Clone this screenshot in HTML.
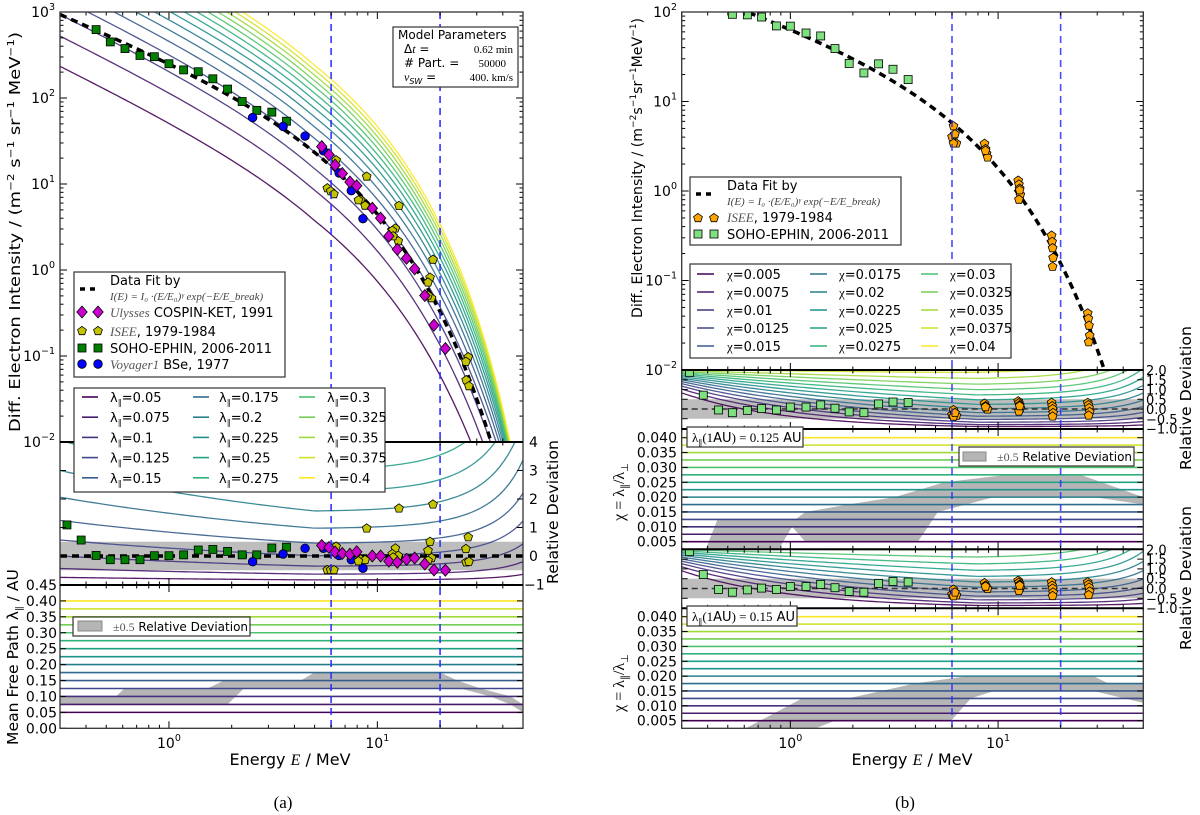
<!DOCTYPE html>
<html><head><meta charset="utf-8"><title>Electron spectra model comparison</title>
<style>
html,body{margin:0;padding:0;background:#fff;}
svg{display:block;font-family:"DejaVu Sans","Liberation Sans",sans-serif;}
</style></head>
<body>
<svg id="fig" xmlns="http://www.w3.org/2000/svg" width="1200" height="815" viewBox="0 0 1200 815">
<defs>
<clipPath id="cLmain"><rect x="60" y="12" width="463" height="430"/></clipPath>
<clipPath id="cLdev"><rect x="60" y="442" width="463" height="143"/></clipPath>
<clipPath id="cLlam"><rect x="60" y="585" width="463" height="143.3"/></clipPath>
<clipPath id="cRmain"><rect x="681.7" y="12" width="461.6" height="358"/></clipPath>
<clipPath id="cRdev1"><rect x="681.7" y="370" width="461.6" height="59"/></clipPath>
<clipPath id="cRchi1"><rect x="681.7" y="429" width="461.6" height="120.3"/></clipPath>
<clipPath id="cRdev2"><rect x="681.7" y="549.3" width="461.6" height="59"/></clipPath>
<clipPath id="cRchi2"><rect x="681.7" y="608.3" width="461.6" height="120"/></clipPath>
</defs>
<rect x="0" y="0" width="1200" height="815" fill="#fff"/>
<g id="root"></g>

<text transform="translate(20,232) rotate(-90)" text-anchor="middle" font-size="15" textLength="400" lengthAdjust="spacingAndGlyphs">Diff. Electron Intensity / (m<tspan dy="-6" font-size="10">−2</tspan><tspan dy="6"> s</tspan><tspan dy="-6" font-size="10">−1</tspan><tspan dy="6"> sr</tspan><tspan dy="-6" font-size="10">−1</tspan><tspan dy="6"> MeV</tspan><tspan dy="-6" font-size="10">−1</tspan><tspan dy="6">)</tspan></text>
<text transform="translate(18,657) rotate(-90)" text-anchor="middle" font-size="15" textLength="176" lengthAdjust="spacingAndGlyphs">Mean Free Path λ<tspan font-size="9" dy="4">∥</tspan><tspan dy="-4"> / AU</tspan></text>
<text transform="translate(558,512) rotate(-90)" text-anchor="middle" font-size="15" textLength="144" lengthAdjust="spacingAndGlyphs">Relative Deviation</text>
<text x="290" y="765" text-anchor="middle" font-size="16">Energy <tspan font-family="Liberation Serif, serif" font-style="italic">E</tspan> / MeV</text>
<text x="283" y="808" text-anchor="middle" font-size="17" font-family="Liberation Serif, serif">(a)</text>

<text transform="translate(642,168) rotate(-90)" text-anchor="middle" font-size="14" textLength="300" lengthAdjust="spacingAndGlyphs">Diff. Electron Intensity / (m<tspan dy="-6" font-size="9">−2</tspan><tspan dy="6">s</tspan><tspan dy="-6" font-size="9">−1</tspan><tspan dy="6">sr</tspan><tspan dy="-6" font-size="9">−1</tspan><tspan dy="6">MeV</tspan><tspan dy="-6" font-size="9">−1</tspan><tspan dy="6">)</tspan></text>
<text transform="translate(624,492) rotate(-90)" text-anchor="middle" font-size="16" font-family="Liberation Serif, serif">χ = λ<tspan font-size="10" dy="4">∥</tspan><tspan dy="-4">/λ</tspan><tspan font-size="10" dy="4">⊥</tspan></text>
<text transform="translate(624,683) rotate(-90)" text-anchor="middle" font-size="16" font-family="Liberation Serif, serif">χ = λ<tspan font-size="10" dy="4">∥</tspan><tspan dy="-4">/λ</tspan><tspan font-size="10" dy="4">⊥</tspan></text>
<text transform="translate(1191,398) rotate(-90)" text-anchor="middle" font-size="15" textLength="144" lengthAdjust="spacingAndGlyphs">Relative Deviation</text>
<text transform="translate(1191,578) rotate(-90)" text-anchor="middle" font-size="15" textLength="144" lengthAdjust="spacingAndGlyphs">Relative Deviation</text>
<text x="912" y="765" text-anchor="middle" font-size="16">Energy <tspan font-family="Liberation Serif, serif" font-style="italic">E</tspan> / MeV</text>
<text x="905" y="808" text-anchor="middle" font-size="17" font-family="Liberation Serif, serif">(b)</text>
</svg>

<script>
// ---------- data ----------
const lamVals=[0.05,0.075,0.1,0.125,0.15,0.175,0.2,0.225,0.25,0.275,0.3,0.325,0.35,0.375,0.4];
const chiVals=[0.005,0.0075,0.01,0.0125,0.015,0.0175,0.02,0.0225,0.025,0.0275,0.03,0.0325,0.035,0.0375,0.04];
const lamTicks=[0,0.05,0.1,0.15,0.2,0.25,0.3,0.35,0.4,0.45];
const chiTicks=[0.005,0.01,0.015,0.02,0.025,0.03,0.035,0.04];
const devTicksL=[-1,0,1,2,3,4];
const devTicksR=[-1,-0.5,0,0.5,1,1.5,2];
const fitLparams=[300.6,-0.99,5.18];
const fitRparams=[76.3,-0.811,5.31];
const dashedE=[6,20];
const sohoLE=[0.324,0.379,0.447,0.523,0.615,0.726,0.851,1.0,1.176,1.382,1.624,1.911,2.246,2.64,3.116,3.664];
const sohoLDev=[1.09,0.56,0.02,-0.13,-0.13,-0.13,0.01,0.01,0.04,0.21,0.23,0.16,0.04,0.04,0.28,0.31];
const voyE=[2.52,3.53,4.50,5.51,6.55,7.50,8.53];
const voyDev=[-0.2,0.07,0.27,0.27,0.02,-0.13,-0.43];
const ulyE=[5.41,5.86,6.27,6.79,7.39,7.96,9.46,10.37,11.36,12.47,13.81,15.1,16.9,18.7,21.2];
const ulyDev=[0.37,0.3,0.14,0.09,0.06,0.15,0,0,-0.18,-0.22,-0.12,-0.07,-0.28,-0.49,-0.5];
const iseeLE=[5.75,5.97,6.19,6.34,8.89,8.32,8.73,8.11,12.7,12.2,11.8,12.6,11.9,18.5,17.9,17.5,18.2,17.5,27.3,26.6,26.7,27.5];
const iseeLDev=[-0.49,-0.49,-0.49,0.33,0.97,-0.12,-0.14,-0.18,1.67,0.27,0.07,0.01,-0.05,1.81,0.5,0.19,-0.07,-0.16,0.66,0.25,-0.22,-0.2];
const sohoRE=[0.327,0.381,0.451,0.526,0.621,0.727,0.857,1.0,1.19,1.40,1.64,1.92,2.26,2.66,3.12,3.69];
const sohoRDev=[1.88,0.71,-0.05,-0.19,-0.07,0.02,-0.05,0.1,0.1,0.21,0.04,-0.15,-0.19,0.26,0.36,0.33];
const iseeRE=[6.0,6.1,6.2,6.3,6.1,6.2, 8.6,8.7,8.8,8.9,8.7, 12.5,12.6,12.7,12.8,12.6,12.7, 18.1,18.2,18.3,18.4,18.3, 27.0,27.2,27.4,27.6,27.3];
const iseeRDev=[-0.3,-0.05,-0.2,-0.35,-0.39,-0.2, 0.28,0.15,0.05,-0.02,0.1, 0.4,0.3,0.2,0.05,-0.12,0.15, 0.32,0.15,0.0,-0.2,-0.38, 0.32,0.2,0.05,-0.15,-0.33];
const bandLUpE=[0.3,0.557,0.611,1.53,1.84,4.29,4.97,20.1,24.2,31.3,43.5,50];
const bandLUpV=[0.1,0.1,0.125,0.125,0.15,0.15,0.175,0.175,0.15,0.125,0.1,0.075];
const bandLLoE=[0.3,1.91,2.29,25.1,34.8,43.5,50];
const bandLLoV=[0.075,0.075,0.125,0.125,0.1,0.075,0.05];
const band1UpE=[0.392,0.446,1.06,1.18,1.90,3.18,5.52,11.1,24.9,50];
const band1UpV=[0.0025,0.0125,0.0125,0.015,0.0175,0.02,0.025,0.0275,0.0275,0.02];
const band1LoE=[0.88,1.02,1.18,4.11,5.13,9.57,28.8,50];
const band1LoV=[0.0025,0.010,0.005,0.005,0.015,0.02,0.02,0.0175];
const band2UpE=[0.609,1.14,1.90,3.96,7.14,28.8,34.0,50];
const band2UpV=[0.0024,0.0125,0.0125,0.0175,0.02,0.02,0.0175,0.0175];
const band2LoE=[1.32,1.64,5.94,7.4,9.57,28.8,50];
const band2LoV=[0.0024,0.005,0.005,0.0125,0.015,0.015,0.011];

// ---------- helpers ----------
const NS="http://www.w3.org/2000/svg";
const root=document.getElementById('root');
function mk(tag,attrs,parent){const el=document.createElementNS(NS,tag);for(const k in attrs)el.setAttribute(k,attrs[k]);(parent||root).appendChild(el);return el;}
function nm(el,name){
  
  
  return el;}
const VIR=[[68,1,84],[72,36,117],[65,68,135],[53,95,141],[42,120,142],[33,145,140],[34,168,132],[68,191,112],[122,209,81],[189,223,38],[253,231,37]];
function vir(t){const p=t*(VIR.length-1);const i=Math.min(Math.floor(p),VIR.length-2);const f=p-i;const c=VIR[i].map((v,k)=>Math.round(v+(VIR[i+1][k]-v)*f));return `rgb(${c[0]},${c[1]},${c[2]})`;}
const L10=Math.log10;
function xmap(x0,x1){return E=>x0+(L10(E)-L10(0.3))/(L10(50)-L10(0.3))*(x1-x0);}
const xL=xmap(60,523), xR=xmap(681.7,1143.3);
const yLmain=I=>12+(3-L10(I))*86;
const yLdev=d=>442+(4-d)*28.5;
const yLlam=l=>728.3-l*318.5;
const yRmain=I=>12+(2-L10(I))*89.5;
const yRdev1=d=>370+(2-d)*19.5;
const yRchi1=c=>437.7+(0.04-c)*2971;
const yRdev2=d=>549.3+(2-d)*19.6;
const yRchi2=c=>616.7+(0.04-c)*2971;
function fit(p,E){return p[0]*Math.pow(E,p[1])*Math.exp(-E/p[2]);}
const clamp=(v,a,b)=>Math.max(a,Math.min(b,v));
function relL(lam,E,damp){const lc=0.1+0.025*clamp(Math.log(E/0.3)/Math.log(5/0.3),0,1);let t=2*Math.log(lam/lc);if(damp&&t>0)t*=Math.max(0.3,1-Math.pow(E/55,3));return Math.exp(t+0.8*Math.pow(E/50,2));}
function relR(chi,E,ref){const s=clamp(Math.log(E/0.3)/Math.log(8/0.3),0,1);const A=0.95*(1-s),B=0.25+1.41*s;return Math.exp(A+B*Math.log(chi/ref)+0.6*Math.pow(E/50,2));}
const grid=[];for(let i=0;i<100;i++)grid.push(0.3*Math.pow(50/0.3,i/99));
function pathD(pts){return 'M'+pts.map(p=>p[0].toFixed(2)+','+p[1].toFixed(2)).join('L');}
function txt(x,y,s,attrs,parent){const t=mk('text',Object.assign({x:x,y:y},attrs||{}),parent);t.textContent=s;return t;}
function pow10Label(x,y,exp,anchor,parent,fs){const t=mk('text',{x:x,y:y,'text-anchor':anchor,'font-size':fs||14},parent);t.appendChild(document.createTextNode('10'));const s=mk('tspan',{dy:-7,'font-size':(fs||14)*0.68},t);s.textContent=exp;return t;}

function marker(type,x,y,fill,parent){
  let el;
  if(type==='sq') el=mk('rect',{x:x-4,y:y-4,width:8,height:8,fill:fill,stroke:'#000','stroke-width':0.8},parent);
  else if(type==='ci') el=mk('circle',{cx:x,cy:y,r:4.3,fill:fill,stroke:'#000','stroke-width':0.8},parent);
  else if(type==='di') el=mk('polygon',{points:`${x},${y-6} ${x+5.2},${y} ${x},${y+6} ${x-5.2},${y}`,fill:fill,stroke:'#000','stroke-width':0.8},parent);
  else {const pts=[];for(let k=0;k<5;k++){const a=-Math.PI/2+k*2*Math.PI/5;pts.push((x+4.6*Math.cos(a)).toFixed(1)+','+(y+4.6*Math.sin(a)).toFixed(1));}el=mk('polygon',{points:pts.join(' '),fill:fill,stroke:'#000','stroke-width':0.8},parent);}
  return el;
}

function xTicks(xf,yTop,yBot){
  const g=mk('g',{stroke:'#000','stroke-width':1});
  nm(g,'x-ticks');
  for(let dec=-1;dec<=1;dec++)for(let m=1;m<=9;m++){const E=m*Math.pow(10,dec);if(E<0.3||E>50)continue;const x=xf(E);const len=(m===1)?7:3.5;
    mk('line',{x1:x,y1:yTop,x2:x,y2:yTop+len},g);mk('line',{x1:x,y1:yBot,x2:x,y2:yBot-len},g);}
}
function yLogTicks(yf,lo,hi,x0,x1){
  const g=mk('g',{stroke:'#000','stroke-width':1});
  nm(g,'y-log-ticks');
  for(let d=lo;d<hi;d++)for(let m=1;m<=9;m++){const y=yf(m*Math.pow(10,d));const len=m===1?7:3.5;mk('line',{x1:x0,y1:y,x2:x0+len,y2:y},g);mk('line',{x1:x1,y1:y,x2:x1-len,y2:y},g);}
}
function yTicks(vals,yf,x0,x1){
  const g=mk('g',{stroke:'#000','stroke-width':1});
  nm(g,'y-ticks');
  vals.forEach(v=>{const y=yf(v);mk('line',{x1:x0,y1:y,x2:x0+6,y2:y},g);mk('line',{x1:x1,y1:y,x2:x1-6,y2:y},g);});
}
function frame(x,y,w,h,name){const r=mk('rect',{x:x,y:y,width:w,height:h,fill:'none',stroke:'#333','stroke-width':1.3});nm(r,name);}

// ================= LEFT PANEL (a) =================
const gLm=mk('g',{'clip-path':'url(#cLmain)'});
nm(gLm,'left-main-plot-area');
lamVals.forEach((lam,i)=>{
  const pts=grid.map(E=>[xL(E),yLmain(Math.max(1e-6,fit(fitLparams,E)*relL(lam,E,true)))]);
  const p=mk('path',{d:pathD(pts),fill:'none',stroke:vir(i/14),'stroke-width':1.3,'stroke-opacity':0.9},gLm);
  nm(p,'model-curve-lambda-'+lam);
});
{const p=mk('path',{d:pathD(grid.map(E=>[xL(E),yLmain(fit(fitLparams,E))])),fill:'none',stroke:'#000','stroke-width':3.5,'stroke-dasharray':'7,5'},gLm);nm(p,'data-fit-line');}
function plotSet(E,D,type,fill,xf,yfMain,pf,gMain,yfDev,gDev,name){
  E.forEach((e,i)=>{const m1=marker(type,xf(e),yfMain(fit(pf,e)*(1+D[i])),fill,gMain);nm(m1,name+'-point');
    const m2=marker(type,xf(e),yfDev(D[i]),fill,gDev);nm(m2,name+'-deviation-point');});
}
const gLd=mk('g',{'clip-path':'url(#cLdev)'});
nm(gLd,'left-deviation-plot-area');
{const r=mk('rect',{x:60,y:yLdev(0.5),width:463,height:yLdev(-0.5)-yLdev(0.5),fill:'#bdbdbd'},gLd);nm(r,'deviation-band');}
lamVals.forEach((lam,i)=>{
  const pts=grid.map(E=>[xL(E),clamp(yLdev(relL(lam,E,false)-1),400,700)]);
  const p=mk('path',{d:pathD(pts),fill:'none',stroke:vir(i/14),'stroke-width':1.3,'stroke-opacity':0.9},gLd);
  nm(p,'deviation-curve-lambda-'+lam);
});
{const l=mk('line',{x1:60,y1:yLdev(0),x2:523,y2:yLdev(0),stroke:'#000','stroke-width':3.5,'stroke-dasharray':'7,5'},gLd);nm(l,'zero-deviation-line');}
plotSet(sohoLE,sohoLDev,'sq','#007f00',xL,yLmain,fitLparams,gLm,yLdev,gLd,'soho-ephin');
plotSet(voyE,voyDev,'ci','#0000ff',xL,yLmain,fitLparams,gLm,yLdev,gLd,'voyager1');
plotSet(iseeLE,iseeLDev,'pe','#c4c400',xL,yLmain,fitLparams,gLm,yLdev,gLd,'isee');
plotSet(ulyE,ulyDev,'di','#cc00cc',xL,yLmain,fitLparams,gLm,yLdev,gLd,'ulysses');
const gLl=mk('g',{'clip-path':'url(#cLlam)'});
nm(gLl,'left-lambda-plot-area');
function bandPoly(upE,upV,loE,loV,xf,yf,g,name){
  const pts=upE.map((e,i)=>[xf(e),yf(upV[i])]).concat(loE.map((e,i)=>[xf(e),yf(loV[i])]).reverse());
  const p=mk('polygon',{points:pts.map(q=>q[0].toFixed(1)+','+q[1].toFixed(1)).join(' '),fill:'#b5b5b5'},g);nm(p,name);
}
bandPoly(bandLUpE,bandLUpV,bandLLoE,bandLLoV,xL,yLlam,gLl,'lambda-band');
lamVals.forEach((lam,i)=>{const l=mk('line',{x1:60,x2:523,y1:yLlam(lam),y2:yLlam(lam),stroke:vir(i/14),'stroke-width':1.6},gLl);nm(l,'lambda-level-'+lam);});
dashedE.forEach(e=>{const l=mk('line',{x1:xL(e),x2:xL(e),y1:12,y2:728.3,stroke:'#2a2aff','stroke-width':1.8,'stroke-dasharray':'7,5','stroke-opacity':0.85});nm(l,'energy-marker-'+e+'MeV');});
xTicks(xL,12,442);xTicks(xL,442,585);xTicks(xL,585,728.3);
yLogTicks(yLmain,-2,3,60,523);yTicks(devTicksL,yLdev,60,523);yTicks(lamTicks,yLlam,60,523);
frame(60,12,463,716.3,'left-frame');
{const l=mk('line',{x1:60,x2:523,y1:442,y2:442,stroke:'#000','stroke-width':2});nm(l,'left-divider-1');}
{const l=mk('line',{x1:60,x2:523,y1:585,y2:585,stroke:'#000','stroke-width':2});nm(l,'left-divider-2');}
for(let d=-2;d<=3;d++){const t=pow10Label(55,yLmain(Math.pow(10,d))+5,d<0?'−'+(-d):String(d),'end');nm(t,'y-tick-label');}
devTicksL.forEach(v=>{const t=txt(v<0?524:529,yLdev(v)+5,v<0?'−'+(-v):String(v),{'font-size':14});nm(t,'deviation-tick-label');});
lamTicks.forEach(v=>{const t=txt(57,yLlam(v)+5,v.toFixed(2),{'font-size':14,'text-anchor':'end'});nm(t,'lambda-tick-label');});
[[1,'0'],[10,'1']].forEach(a=>{const t=pow10Label(xL(a[0]),748,a[1],'middle');nm(t,'x-tick-label');});

{const g=mk('g');nm(g,'data-legend');
 const r=mk('rect',{x:74,y:272,width:211,height:105,fill:'#fff',stroke:'#333','stroke-width':1.2},g);nm(r,'data-legend-box');
 mk('line',{x1:80,x2:100,y1:289,y2:289,stroke:'#000','stroke-width':3.5,'stroke-dasharray':'5,5'},g);
 txt(110,285,'Data Fit by',{'font-size':13},g);
 txt(110,300,'I(E) = I₀ ·(E/E₀)ᵞ exp(−E/E_break)',{'font-size':11,'font-family':'Liberation Serif, serif','font-style':'italic',fill:'#444'},g);
 marker('di',82,312,'#cc00cc',g);marker('di',98,312,'#cc00cc',g);
 const t1=txt(110,317,'',{'font-size':13},g);t1.innerHTML='<tspan font-family="Liberation Serif, serif" font-style="italic" fill="#555">Ulysses</tspan> COSPIN-KET, 1991';
 marker('pe',82,331,'#c4c400',g);marker('pe',98,331,'#c4c400',g);
 const t2=txt(110,336,'',{'font-size':13},g);t2.innerHTML='<tspan font-family="Liberation Serif, serif" font-style="italic" fill="#555">ISEE</tspan>, 1979-1984';
 marker('sq',82,348,'#007f00',g);marker('sq',98,348,'#007f00',g);
 txt(110,353,'SOHO-EPHIN, 2006-2011',{'font-size':13},g);
 marker('ci',82,364,'#0000ff',g);marker('ci',98,364,'#0000ff',g);
 const t3=txt(110,369,'',{'font-size':13},g);t3.innerHTML='<tspan font-family="Liberation Serif, serif" font-style="italic" fill="#555">Voyager1</tspan> BSe, 1977';
}
{const g=mk('g');nm(g,'lambda-legend');
 const r=mk('rect',{x:74,y:388,width:311,height:104,fill:'#fff',stroke:'#333','stroke-width':1.2},g);nm(r,'lambda-legend-box');
 const colX=[[82,110],[193,219],[299,327]];
 lamVals.forEach((lam,i)=>{const c=Math.floor(i/5),row=i%5;const y=397+row*20.2;
  const l=mk('line',{x1:colX[c][0],x2:colX[c][0]+16,y1:y,y2:y,stroke:vir(i/14),'stroke-width':1.6},g);nm(l,'legend-line-lambda-'+lam);
  const t=txt(colX[c][1],y+5,'',{'font-size':13},g);t.innerHTML='λ<tspan font-size="8" dy="3">∥</tspan><tspan dy="-3">='+lam+'</tspan>';nm(t,'legend-entry-lambda-'+lam);});
}
{const g=mk('g');nm(g,'model-parameters-box');
 mk('rect',{x:393,y:27,width:125,height:60,fill:'#fff',stroke:'#333','stroke-width':1.2},g);
 txt(398,39,'Model Parameters',{'font-size':12},g);
 const a=txt(404,53,'',{'font-size':12},g);a.innerHTML='Δ<tspan font-family="Liberation Serif, serif" font-style="italic">t</tspan> =';
 txt(513,53,'0.62 min',{'font-size':11,'text-anchor':'end','font-family':'Liberation Serif, serif'},g);
 txt(404,67,'# Part. =',{'font-size':12},g);
 txt(506,67,'50000',{'font-size':11,'text-anchor':'end','font-family':'Liberation Serif, serif'},g);
 const b=txt(404,81,'',{'font-size':12},g);b.innerHTML='<tspan font-family="Liberation Serif, serif" font-style="italic">v</tspan><tspan font-size="8" dy="3" font-style="italic">SW</tspan><tspan dy="-3"> =</tspan>';
 txt(513,81,'400. km/s',{'font-size':11,'text-anchor':'end','font-family':'Liberation Serif, serif'},g);
}
{const g=mk('g');nm(g,'band-legend-left');
 mk('rect',{x:73,y:617,width:177,height:19,fill:'#fff',stroke:'#333','stroke-width':1.2},g);
 mk('rect',{x:78,y:621,width:24,height:10,fill:'#b5b5b5',stroke:'#888'},g);
 const t=txt(113,631,'',{'font-size':12},g);t.innerHTML='<tspan font-family="Liberation Serif, serif" fill="#555">±0.5</tspan> Relative Deviation';
}

// ================= RIGHT PANEL (b) =================
const gRm=mk('g',{'clip-path':'url(#cRmain)'});
nm(gRm,'right-main-plot-area');
{const p=mk('path',{d:pathD(grid.map(E=>[xR(E),yRmain(fit(fitRparams,E))])),fill:'none',stroke:'#000','stroke-width':3.5,'stroke-dasharray':'7,5'},gRm);nm(p,'data-fit-line-right');}
function devPanel(clip,yf,ref,name){
  const g=mk('g',{'clip-path':clip});nm(g,name);
  const r=mk('rect',{x:681.7,y:yf(0.5),width:461.6,height:yf(-0.5)-yf(0.5),fill:'#bdbdbd'},g);nm(r,'deviation-band');
  chiVals.forEach((c,i)=>{const pts=grid.map(E=>[xR(E),clamp(yf(relR(c,E,ref)-1),300,700)]);
    const p=mk('path',{d:pathD(pts),fill:'none',stroke:vir(i/14),'stroke-width':1.3,'stroke-opacity':0.9},g);nm(p,'deviation-curve-chi-'+c);});
  const l=mk('line',{x1:681.7,x2:1143.3,y1:yf(0),y2:yf(0),stroke:'#333','stroke-width':1.6,'stroke-dasharray':'6,4'},g);nm(l,'zero-deviation-line');
  return g;
}
const gRd1=devPanel('url(#cRdev1)',yRdev1,0.02,'right-deviation-plot-1');
const gRd2=devPanel('url(#cRdev2)',yRdev2,0.017,'right-deviation-plot-2');
plotSet(sohoRE,sohoRDev,'sq','#7ee07e',xR,yRmain,fitRparams,gRm,yRdev1,gRd1,'soho-ephin-right');
plotSet(iseeRE,iseeRDev,'pe','#ffa500',xR,yRmain,fitRparams,gRm,yRdev1,gRd1,'isee-right');
sohoRE.forEach((e,i)=>{const m=marker('sq',xR(e),yRdev2(sohoRDev[i]),'#7ee07e',gRd2);nm(m,'soho-ephin-deviation-point-2');});
iseeRE.forEach((e,i)=>{const m=marker('pe',xR(e),yRdev2(iseeRDev[i]),'#ffa500',gRd2);nm(m,'isee-deviation-point-2');});
function chiPanel(clip,yf,upE,upV,loE,loV,name){
  const g=mk('g',{'clip-path':clip});nm(g,name);
  bandPoly(upE,upV,loE,loV,xR,yf,g,'chi-band');
  chiVals.forEach((c,i)=>{const l=mk('line',{x1:681.7,x2:1143.3,y1:yf(c),y2:yf(c),stroke:vir(i/14),'stroke-width':1.6},g);nm(l,'chi-level-'+c);});
}
chiPanel('url(#cRchi1)',yRchi1,band1UpE,band1UpV,band1LoE,band1LoV,'chi-plot-1');
chiPanel('url(#cRchi2)',yRchi2,band2UpE,band2UpV,band2LoE,band2LoV,'chi-plot-2');
dashedE.forEach(e=>{const l=mk('line',{x1:xR(e),x2:xR(e),y1:12,y2:728.3,stroke:'#2a2aff','stroke-width':1.6,'stroke-dasharray':'7,5','stroke-opacity':0.85});nm(l,'energy-marker-right-'+e+'MeV');});
xTicks(xR,12,370);xTicks(xR,370,429);xTicks(xR,429,549.3);xTicks(xR,549.3,608.3);xTicks(xR,608.3,728.3);
yLogTicks(yRmain,-2,2,681.7,1143.3);yTicks(devTicksR,yRdev1,681.7,1143.3);yTicks(devTicksR,yRdev2,681.7,1143.3);yTicks(chiTicks,yRchi1,681.7,1143.3);yTicks(chiTicks,yRchi2,681.7,1143.3);
frame(681.7,12,461.6,716.3,'right-frame');
[370,429,549.3,608.3].forEach((y,i)=>{const l=mk('line',{x1:681.7,x2:1143.3,y1:y,y2:y,stroke:'#000','stroke-width':2});nm(l,'right-divider-'+i);});
for(let d=-2;d<=2;d++){const t=pow10Label(677,yRmain(Math.pow(10,d))+5,d<0?'−'+(-d):String(d),'end');nm(t,'y-tick-label-right');}
[yRdev1,yRdev2].forEach(yf=>devTicksR.forEach(v=>{const t=txt(1146,yf(v)+5,(v<0?'−':'')+Math.abs(v).toFixed(1),{'font-size':13},root);nm(t,'deviation-tick-label-right');}));
[yRchi1,yRchi2].forEach(yf=>chiTicks.forEach(v=>{const t=txt(677,yf(v)+5,v.toFixed(3),{'font-size':14,'text-anchor':'end'});nm(t,'chi-tick-label');}));
[[1,'0'],[10,'1']].forEach(a=>{const t=pow10Label(xR(a[0]),748,a[1],'middle');nm(t,'x-tick-label-right');});

{const g=mk('g');nm(g,'data-legend-right');
 mk('rect',{x:690,y:177,width:211,height:68,fill:'#fff',stroke:'#333','stroke-width':1.2},g);
 mk('line',{x1:696,x2:716,y1:194,y2:194,stroke:'#000','stroke-width':3.5,'stroke-dasharray':'5,5'},g);
 txt(727,190,'Data Fit by',{'font-size':13},g);
 txt(727,205,'I(E) = I₀ ·(E/E₀)ᵞ exp(−E/E_break)',{'font-size':11,'font-family':'Liberation Serif, serif','font-style':'italic',fill:'#444'},g);
 marker('pe',698,218,'#ffa500',g);marker('pe',714,218,'#ffa500',g);
 const t=txt(727,222,'',{'font-size':13},g);t.innerHTML='<tspan font-family="Liberation Serif, serif" font-style="italic" fill="#555">ISEE</tspan>, 1979-1984';
 marker('sq',698,234,'#7ee07e',g);marker('sq',714,234,'#7ee07e',g);
 txt(727,239,'SOHO-EPHIN, 2006-2011',{'font-size':13},g);
}
{const g=mk('g');nm(g,'chi-legend');
 mk('rect',{x:690,y:264,width:321,height:94,fill:'#fff',stroke:'#333','stroke-width':1.2},g);
 const colX=[[697,727],[810,839],[921,950]];
 chiVals.forEach((c,i)=>{const col=Math.floor(i/5),row=i%5;const y=274+row*18;
  const l=mk('line',{x1:colX[col][0],x2:colX[col][0]+17,y1:y,y2:y,stroke:vir(i/14),'stroke-width':1.6},g);nm(l,'legend-line-chi-'+c);
  const t=txt(colX[col][1],y+5,'',{'font-size':13},g);t.innerHTML='<tspan font-family="Liberation Serif, serif">χ</tspan>='+c;nm(t,'legend-entry-chi-'+c);});
}
[[427,'0.125',116],[606,'0.15',110]].forEach((a,i)=>{const g=mk('g');nm(g,'lambda-1au-label-'+(i+1));
 mk('rect',{x:687,y:a[0],width:a[2],height:20,fill:'#fff',stroke:'#333','stroke-width':1.2},g);
 const t=txt(692,a[0]+15,'',{'font-size':13},g);t.innerHTML='<tspan font-family="Liberation Serif, serif">λ</tspan><tspan font-size="8" dy="3">∥</tspan><tspan dy="-3" font-family="Liberation Serif, serif">(1</tspan>AU<tspan font-family="Liberation Serif, serif">) = '+a[1]+'</tspan> AU';});
{const g=mk('g');nm(g,'band-legend-right');
 mk('rect',{x:959,y:447,width:175,height:19,fill:'#fff',stroke:'#333','stroke-width':1.2},g);
 mk('rect',{x:963,y:452,width:23,height:9,fill:'#b5b5b5',stroke:'#888'},g);
 const t=txt(997,461,'',{'font-size':12},g);t.innerHTML='<tspan font-family="Liberation Serif, serif" fill="#555">±0.5</tspan> Relative Deviation';
}
</script>
</body></html>
